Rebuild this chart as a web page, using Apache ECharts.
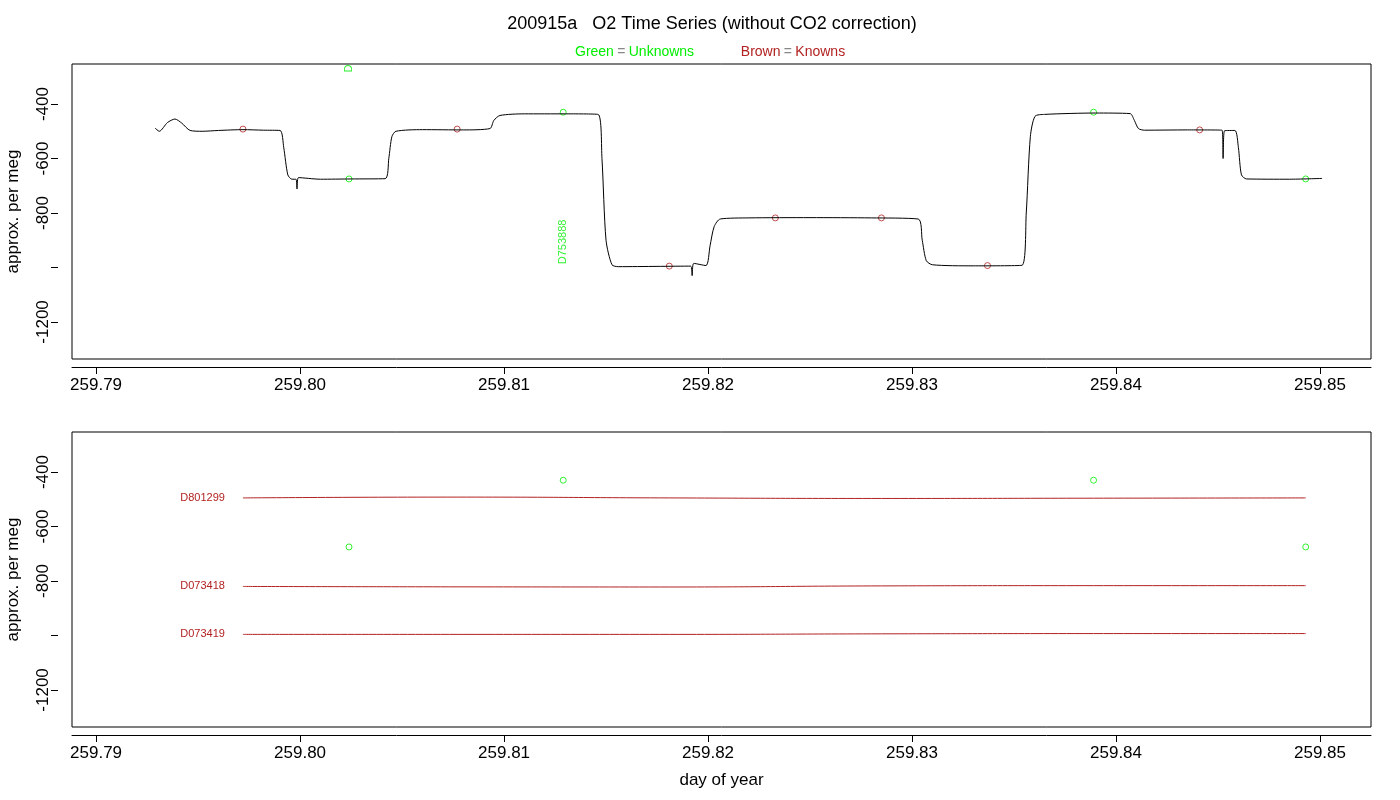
<!DOCTYPE html>
<html>
<head>
<meta charset="UTF-8">
<script src="https://cdn.jsdelivr.net/npm/echarts@6/dist/echarts.min.js"></script>
<style>
  body { margin: 0; background: #fff; }
  #chart { width: 1400px; height: 800px; }
</style>
</head>
<body>
<div id="chart"></div>
<script>
// trace: [day, per meg]
var trace = [
  [259.79289, -488], [259.79310, -500], [259.79350, -468], [259.79387, -455], [259.79420, -470],
  [259.79461, -497], [259.79520, -500], [259.79600, -497], [259.79720, -494], [259.79820, -496],
  [259.79902, -497], [259.79920, -560], [259.79940, -660], [259.79960, -676], [259.79980, -676],
  [259.79985, -712], [259.79992, -670], [259.80100, -676], [259.80250, -675], [259.80417, -674],
  [259.80435, -600], [259.80450, -520], [259.80470, -500], [259.80600, -494], [259.80800, -495],
  [259.80931, -490], [259.80950, -460], [259.80980, -442], [259.81100, -436], [259.81300, -436],
  [259.81461, -438], [259.81480, -600], [259.81500, -900], [259.81529, -990], [259.81560, -997],
  [259.81750, -996], [259.81915, -995], [259.81922, -1030], [259.81930, -985], [259.81990, -993],
  [259.82010, -920], [259.82030, -850], [259.82060, -822], [259.82200, -818], [259.82500, -817],
  [259.82800, -818], [259.83030, -822], [259.83050, -900], [259.83070, -975], [259.83100, -990],
  [259.83300, -994], [259.83539, -992], [259.83560, -800], [259.83580, -520], [259.83603, -445],
  [259.83650, -438], [259.83900, -433], [259.84069, -435], [259.84090, -460], [259.84110, -490],
  [259.84140, -496], [259.84350, -495], [259.84520, -496], [259.84525, -600], [259.84532, -498],
  [259.84583, -497], [259.84600, -560], [259.84615, -660], [259.84640, -675], [259.84850, -676],
  [259.85010, -673]
];
var knowns = [
  [259.7972, -492], [259.8077, -492], [259.8181, -995], [259.8233, -818],
  [259.8285, -818], [259.8337, -993], [259.8441, -495]
];
var unknowns = [
  [259.8024, -675], [259.8129, -430], [259.8389, -430], [259.8493, -675]
];
var refNames = ['D801299', 'D073418', 'D073419'];
var refLines = [
  [[259.7972, -495], [259.8077, -492], [259.8181, -495], [259.8285, -497], [259.8389, -496], [259.8493, -495]],
  [[259.7972, -820], [259.8181, -822], [259.8285, -818], [259.8389, -817], [259.8493, -817]],
  [[259.7972, -996], [259.8181, -996], [259.8285, -994], [259.8389, -993], [259.8493, -993]]
];
var xTicks = [259.79, 259.80, 259.81, 259.82, 259.83, 259.84, 259.85];
var yLabels = [-400, -600, -800, -1200];
var yTicks = [-400, -600, -800, -1000, -1200];

var brown = '#b22222';
var green = '#00ee00';
var font = 'Liberation Sans';

function xAxis(i, name) {
  return {
    gridIndex: i, type: 'value', min: 259.78882, max: 259.8525, offset: 8,
    name: name, nameLocation: 'middle', nameGap: 37,
    nameTextStyle: { fontSize: 17, color: '#000', fontFamily: font },
    axisLine: { lineStyle: { color: '#000' } },
    axisTick: { length: 7, customValues: xTicks, lineStyle: { color: '#000' } },
    axisLabel: { customValues: xTicks, fontSize: 17, color: '#000', fontFamily: font, margin: 10,
      formatter: function (v) { return v.toFixed(2); } },
    splitLine: { show: false }
  };
}
function yAxis(i) {
  return {
    gridIndex: i, type: 'value', min: -1336, max: -253, offset: 14,
    name: 'approx. per meg', nameLocation: 'middle', nameGap: 36, nameRotate: 90,
    nameTextStyle: { fontSize: 17, color: '#000', fontFamily: font },
    axisLine: { show: false },
    axisTick: { length: 7, customValues: yTicks, lineStyle: { color: '#000' } },
    axisLabel: { customValues: yLabels, rotate: 90, fontSize: 17, color: '#000', fontFamily: font, margin: 6,
      formatter: function (v) { return String(v); } },
    splitLine: { show: false }
  };
}

var series = [
  { type: 'line', xAxisIndex: 0, yAxisIndex: 0, data: trace, symbol: 'none', smooth: 0.25,
    lineStyle: { color: '#000', width: 1 } },
  { type: 'scatter', xAxisIndex: 0, yAxisIndex: 0, data: knowns, symbol: 'circle', symbolSize: 6,
    itemStyle: { color: 'transparent', borderColor: brown, borderWidth: 1 } },
  { type: 'scatter', xAxisIndex: 0, yAxisIndex: 0, data: unknowns, symbol: 'circle', symbolSize: 6,
    itemStyle: { color: 'transparent', borderColor: green, borderWidth: 1 } },
  { type: 'scatter', xAxisIndex: 0, yAxisIndex: 0, symbolSize: 0,
    data: [[259.8129, -906, 'D753888'], [259.8024, -270, 'D']],
    label: { show: true, position: 'inside', rotate: 90, color: green, fontSize: 11, fontFamily: font,
      formatter: function (p) { return p.value[2]; } } },
  { type: 'scatter', xAxisIndex: 1, yAxisIndex: 1, data: unknowns, symbol: 'circle', symbolSize: 6,
    itemStyle: { color: 'transparent', borderColor: green, borderWidth: 1 } }
];
refLines.forEach(function (d, k) {
  series.push({
    type: 'line', xAxisIndex: 1, yAxisIndex: 1, data: d, symbol: 'none', smooth: true,
    lineStyle: { color: brown, width: 1 },
    markPoint: {
      symbolSize: 0,
      data: [{ coord: d[0], label: { show: true, position: 'left', distance: 18, color: brown, fontSize: 11,
        fontFamily: font, formatter: refNames[k] } }]
    }
  });
});

var chart = echarts.init(document.getElementById('chart'));
chart.setOption({
  backgroundColor: '#fff',
  animation: false,
  title: {
    text: '200915a   O2 Time Series (without CO2 correction)',
    left: 707, textAlign: 'center', top: 10,
    textStyle: { fontSize: 18, fontWeight: 'normal', color: '#000', fontFamily: font }
  },
  graphic: [{
    type: 'text', left: 575, top: 45,
    style: {
      rich: {
        g: { fill: green, fontSize: 14, fontFamily: font },
        k: { fill: '#888', fontSize: 14, fontFamily: font },
        b: { fill: brown, fontSize: 14, fontFamily: font }
      },
      text: '{g|Green} {k|=} {g|Unknowns}              {b|Brown} {k|=} {b|Knowns}'
    }
  }],
  grid: [
    { left: 72, top: 64, width: 1299, height: 295, show: true, borderColor: '#000', borderWidth: 1,
      outerBoundsMode: 'none', containLabel: false },
    { left: 72, top: 432, width: 1299, height: 295, show: true, borderColor: '#000', borderWidth: 1,
      outerBoundsMode: 'none', containLabel: false }
  ],
  xAxis: [xAxis(0, ''), xAxis(1, 'day of year')],
  yAxis: [yAxis(0), yAxis(1)],
  series: series
});
</script>
</body>
</html>
